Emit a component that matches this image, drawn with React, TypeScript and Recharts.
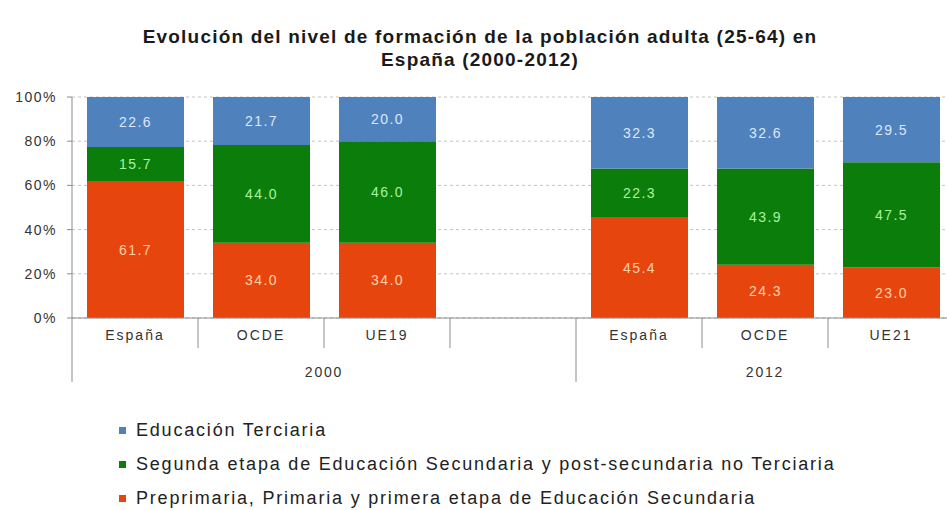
import React from 'react'
import { BarChart, Bar, XAxis, YAxis, CartesianGrid, LabelList } from 'recharts'

const categories = ['España', 'OCDE', 'UE19', '', 'España', 'OCDE', 'UE21']
const years = ['2000', '2000', '2000', '2000', '2012', '2012', '2012']

const primaria = [61.7, 34.0, 34.0, null, 45.4, 24.3, 23.0]
const secundaria = [15.7, 44.0, 46.0, null, 22.3, 43.9, 47.5]
const terciaria = [22.6, 21.7, 20.0, null, 32.3, 32.6, 29.5]

const yTicks = [0, 0.2, 0.4, 0.6, 0.8, 1]

const series = [
  { key: 'terciaria', name: 'Educación Terciaria', color: '#4f81bd', text: '#dbe7ff' },
  {
    key: 'secundaria',
    name: 'Segunda etapa de Educación Secundaria y post-secundaria no Terciaria',
    color: '#0b7d0b',
    text: '#a8f2a0',
  },
  {
    key: 'primaria',
    name: 'Preprimaria, Primaria y primera etapa de Educación Secundaria',
    color: '#e6460e',
    text: '#ffd0a8',
  },
]

const data = categories.map((name, i) => ({
  name,
  year: years[i],
  primaria: primaria[i],
  secundaria: secundaria[i],
  terciaria: terciaria[i],
}))

const CHART_W = 960
const CHART_H = 400
const MARGIN = { top: 97, right: 6, left: 0, bottom: 12 }
const Y_WIDTH = 72
const PLOT_BOTTOM = 318
const BAND = (CHART_W - MARGIN.left - MARGIN.right - Y_WIDTH) / categories.length
const FONT = '"Liberation Sans", Arial, sans-serif'
const LINE = '#8c8c8c'

// first level: category names with short separators between slots
function CategoryTick(props: any) {
  const { x, payload, index } = props
  const right = x + BAND / 2
  const groupEnd = index < years.length - 1 && years[index + 1] !== years[index]
  return (
    <g>
      <text
        x={x}
        y={PLOT_BOTTOM + 22}
        textAnchor="middle"
        fill="#333"
        fontSize={14}
        letterSpacing={2}
        fontFamily={FONT}
      >
        {payload.value}
      </text>
      {!groupEnd && index < categories.length - 1 && (
        <line x1={right} x2={right} y1={PLOT_BOTTOM} y2={PLOT_BOTTOM + 30} stroke={LINE} />
      )}
    </g>
  )
}

// second level: year centred under its group, long separator at group start
function YearTick(props: any) {
  const { x, payload, index } = props
  if (index > 0 && years[index - 1] === years[index]) return <g />
  const size = years.filter((y) => y === years[index]).length
  const left = x - BAND / 2
  return (
    <g>
      <line x1={left} x2={left} y1={PLOT_BOTTOM} y2={PLOT_BOTTOM + 64} stroke={LINE} />
      <text
        x={x + ((size - 1) * BAND) / 2}
        y={PLOT_BOTTOM + 59}
        textAnchor="middle"
        fill="#333"
        fontSize={14}
        letterSpacing={1.8}
        fontFamily={FONT}
      >
        {payload.value}
      </text>
    </g>
  )
}

function makeLabel(color: string) {
  return (props: any) => {
    const { x, y, width, height, value } = props
    if (value == null || !height) return null
    return (
      <text
        x={x + width / 2}
        y={y + height / 2 + 5}
        textAnchor="middle"
        fill={color}
        fontSize={14}
        letterSpacing={1.5}
        fontFamily={FONT}
      >
        {Number(value).toFixed(1)}
      </text>
    )
  }
}

export default function App() {
  const stackOrder = [...series].reverse()
  return (
    <div
      style={{
        position: 'fixed',
        left: 0,
        top: 0,
        width: 947,
        height: 510,
        overflow: 'hidden',
        background: '#fff',
        fontFamily: FONT,
      }}
    >
      <div
        style={{
          position: 'absolute',
          left: 80,
          top: 25,
          width: 800,
          textAlign: 'center',
          fontWeight: 'bold',
          fontSize: 19,
          lineHeight: '23px',
          letterSpacing: 1.2,
          color: '#1a1a1a',
        }}
      >
        Evolución del nivel de formación de la población adulta (25-64) en
        <br />
        España (2000-2012)
      </div>
      <div style={{ position: 'absolute', left: 0, top: 0 }}>
        <BarChart width={CHART_W} height={CHART_H} data={data} margin={MARGIN} stackOffset="expand">
          <CartesianGrid vertical={false} stroke="#c4c4c4" strokeDasharray="3 3" />
          <XAxis
            xAxisId="cat"
            dataKey="name"
            height={30}
            axisLine={{ stroke: LINE }}
            tickLine={false}
            interval={0}
            tick={CategoryTick}
          />
          <XAxis
            xAxisId="year"
            dataKey="year"
            height={40}
            axisLine={false}
            tickLine={false}
            interval={0}
            tick={YearTick}
          />
          <YAxis
            width={Y_WIDTH}
            domain={[0, 1]}
            ticks={yTicks}
            tickFormatter={(v: number) => `${Math.round(v * 100)}%`}
            tick={{ fill: '#333', fontSize: 14, fontFamily: FONT, letterSpacing: 1.5 }}
            axisLine={{ stroke: LINE }}
            tickLine={{ stroke: LINE }}
            tickSize={5}
            tickMargin={10}
          />
          {stackOrder.map((s) => (
            <Bar
              key={s.key}
              xAxisId="cat"
              dataKey={s.key}
              stackId="a"
              fill={s.color}
              barSize={97}
              isAnimationActive={false}
            >
              <LabelList dataKey={s.key} content={makeLabel(s.text)} />
            </Bar>
          ))}
        </BarChart>
      </div>
      <div style={{ position: 'absolute', left: 119, top: 413 }}>
        {series.map((s) => (
          <div
            key={s.key}
            style={{
              display: 'flex',
              alignItems: 'center',
              height: 34,
              fontSize: 18,
              lineHeight: '20px',
              letterSpacing: 1.8,
              color: '#222',
            }}
          >
            <span
              style={{ width: 7, height: 7, background: s.color, marginRight: 10, display: 'inline-block' }}
            />
            {s.name}
          </div>
        ))}
      </div>
    </div>
  )
}
